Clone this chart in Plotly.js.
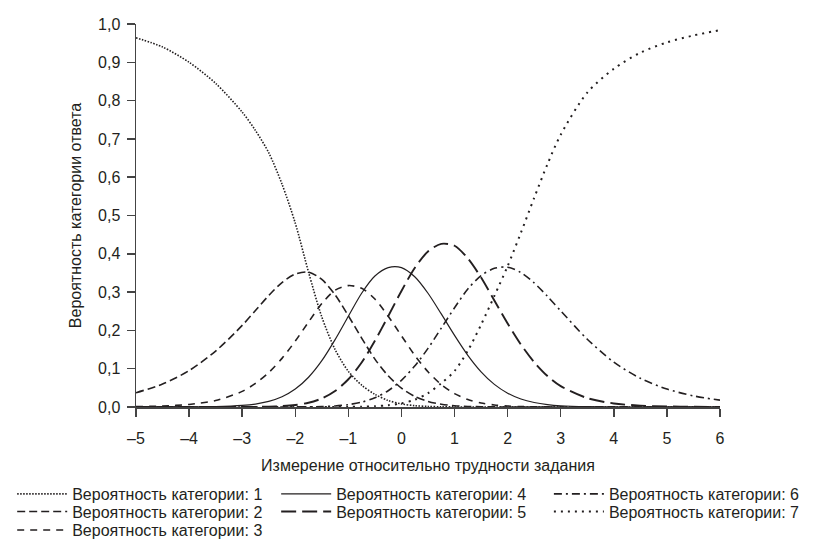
<!DOCTYPE html>
<html>
<head>
<meta charset="utf-8">
<script src="https://cdn.plot.ly/plotly-3.0.1.min.js"></script>
<style>
  html, body { margin: 0; padding: 0; background: #ffffff; }
  #chart { width: 817px; height: 559px; }
</style>
</head>
<body>
<div id="chart"></div>
<script>
// Ability relative to item difficulty (x values)
const theta = [-5, -4.5, -4, -3.5, -3, -2.75, -2.5, -2.25, -2, -1.75, -1.5, -1.25, -1, -0.75, -0.5, -0.25,
  0, 0.25, 0.5, 0.75, 1, 1.25, 1.5, 1.75, 2, 2.25, 2.5, 2.75, 3, 3.5, 4, 4.5, 5, 5.5, 6];

// Category probability curves
const cat1 = [0.964, 0.940, 0.900, 0.845, 0.770, 0.722, 0.664, 0.582, 0.480, 0.352, 0.235, 0.150, 0.093, 0.057, 0.033, 0.017,
  0.008, 0.0035, 0.0015, 0.0006, 0.0002, 0.0001, 0, 0, 0, 0, 0, 0, 0, 0, 0, 0, 0, 0, 0];
const cat2 = [0.0373, 0.0599, 0.0950, 0.146, 0.213, 0.252, 0.291, 0.325, 0.347, 0.352, 0.333, 0.293, 0.238, 0.180, 0.125, 0.0814,
  0.0491, 0.0277, 0.0146, 0.0072, 0.0034, 0.0015, 0.0006, 0.0002, 0.0001, 0, 0, 0, 0, 0, 0, 0, 0, 0, 0];
const cat3 = [0.0010, 0.0026, 0.0067, 0.0169, 0.0408, 0.0617, 0.0900, 0.127, 0.172, 0.222, 0.270, 0.305, 0.317, 0.310, 0.282, 0.237,
  0.186, 0.135, 0.0920, 0.0585, 0.0350, 0.0197, 0.0105, 0.0053, 0.0025, 0.0011, 0.0005, 0.0002, 0.0001, 0, 0, 0, 0, 0, 0];
const cat4 = [0, 0.0001, 0.0002, 0.0010, 0.0040, 0.0077, 0.0146, 0.0266, 0.0467, 0.0777, 0.121, 0.176, 0.237, 0.297, 0.342, 0.364,
  0.364, 0.340, 0.297, 0.243, 0.187, 0.135, 0.0919, 0.0590, 0.0360, 0.0209, 0.0117, 0.0063, 0.0033, 0.0009, 0.0002, 0, 0, 0, 0];
const cat5 = [0, 0, 0, 0, 0.0002, 0.0004, 0.0010, 0.0023, 0.0052, 0.0111, 0.0222, 0.0416, 0.0724, 0.116, 0.173, 0.237,
  0.303, 0.363, 0.406, 0.426, 0.421, 0.388, 0.338, 0.278, 0.218, 0.163, 0.117, 0.0809, 0.0545, 0.0232, 0.0093, 0.0036, 0.0014, 0.0005, 0.0002];
const cat6 = [0, 0, 0, 0, 0, 0, 0, 0.0001, 0.0002, 0.0004, 0.0011, 0.0027, 0.0061, 0.0126, 0.0241, 0.0425,
  0.0697, 0.107, 0.153, 0.206, 0.259, 0.308, 0.343, 0.362, 0.365, 0.351, 0.324, 0.289, 0.251, 0.177, 0.117, 0.0749, 0.0469, 0.0290, 0.0178];
const cat7 = [0, 0, 0, 0, 0, 0, 0, 0, 0, 0, 0, 0.0001, 0.0003, 0.0008, 0.0020, 0.0045,
  0.0095, 0.019, 0.036, 0.062, 0.094, 0.147, 0.215, 0.290, 0.368, 0.455, 0.546, 0.634, 0.711, 0.821, 0.883, 0.925, 0.952, 0.970, 0.984];

const seriesNames = [
  'Вероятность категории: 1', 'Вероятность категории: 2', 'Вероятность категории: 3',
  'Вероятность категории: 4', 'Вероятность категории: 5', 'Вероятность категории: 6',
  'Вероятность категории: 7'
];

const xTickVals = [-5, -4, -3, -2, -1, 0, 1, 2, 3, 4, 5, 6];
const xTickText = ['–5', '–4', '–3', '–2', '–1', '0', '1', '2', '3', '4', '5', '6'];
const yTickVals = [0, 0.1, 0.2, 0.3, 0.4, 0.5, 0.6, 0.7, 0.8, 0.9, 1.0];
const yTickText = ['0,0', '0,1', '0,2', '0,3', '0,4', '0,5', '0,6', '0,7', '0,8', '0,9', '1,0'];

const xTitle = 'Измерение относительно трудности задания';
const yTitle = 'Вероятность категории ответа';

const FONT = '"Liberation Sans", Arial, sans-serif';
const INK = '#231f20';

const seriesData = [cat1, cat2, cat3, cat4, cat5, cat6, cat7];
const styles = [
  { dash: '1.5px,1.5px', width: 1.6 },
  { dash: '8px,4px', width: 1.6 },
  { dash: '7px,6px', width: 1.6 },
  { dash: 'solid', width: 1.2 },
  { dash: '15px,6px', width: 1.9 },
  { dash: '8px,4px,2px,4px', width: 1.6 },
  { dash: '2px,5px', width: 2.0 }
];
const legendIds = ['legend', 'legend2', 'legend3', 'legend4', 'legend5', 'legend6', 'legend7'];

const traces = seriesData.map((ys, i) => ({
  type: 'scatter',
  mode: 'lines',
  x: theta,
  y: ys,
  name: seriesNames[i],
  legend: legendIds[i],
  line: { color: INK, width: styles[i].width, dash: styles[i].dash, shape: 'spline', smoothing: 0.8 },
  cliponaxis: true,
  hoverinfo: 'x+y+name'
}));

// legend placement: column / row (paper coordinates)
const colX = [-0.212, 0.240, 0.707];
const rowY = [-0.227, -0.273, -0.3214];
const legendPos = [[0,0],[0,1],[0,2],[1,0],[1,1],[2,0],[2,1]];

const layout = {
  width: 817,
  height: 559,
  margin: { l: 133, r: 80, t: 24, b: 143, pad: 0 },
  paper_bgcolor: '#ffffff',
  plot_bgcolor: '#ffffff',
  font: { family: FONT, size: 16, color: INK },
  showlegend: true,
  xaxis: {
    range: [-5, 6],
    showline: true, linecolor: '#444', linewidth: 1.5,
    ticks: 'outside', ticklen: 8, tickwidth: 1.5, tickcolor: '#444',
    ticklabelstandoff: 8,
    showgrid: false, zeroline: false,
    tickmode: 'array', tickvals: xTickVals, ticktext: xTickText,
    tickfont: { family: FONT, size: 16, color: INK },
    title: { text: xTitle, font: { family: FONT, size: 16, color: INK }, standoff: 14 },
    automargin: false
  },
  yaxis: {
    range: [0, 1],
    showline: true, linecolor: '#444', linewidth: 1.5,
    ticks: 'outside', ticklen: 8, tickwidth: 1.5, tickcolor: '#444',
    ticklabelstandoff: 3,
    showgrid: false, zeroline: false,
    tickmode: 'array', tickvals: yTickVals, ticktext: yTickText,
    tickfont: { family: FONT, size: 16, color: INK },
    title: { text: yTitle, font: { family: FONT, size: 16, color: INK }, standoff: 12 },
    automargin: false
  }
};

legendIds.forEach((id, i) => {
  const [c, r] = legendPos[i];
  layout[id] = {
    x: colX[c], y: rowY[r], xanchor: 'left', yanchor: 'middle',
    orientation: 'v', bgcolor: 'rgba(0,0,0,0)', borderwidth: 0,
    font: { family: FONT, size: 16, color: INK },
    itemwidth: 50, tracegroupgap: 0
  };
});

Plotly.newPlot('chart', traces, layout, { displayModeBar: false, staticPlot: true });
</script>
</body>
</html>
